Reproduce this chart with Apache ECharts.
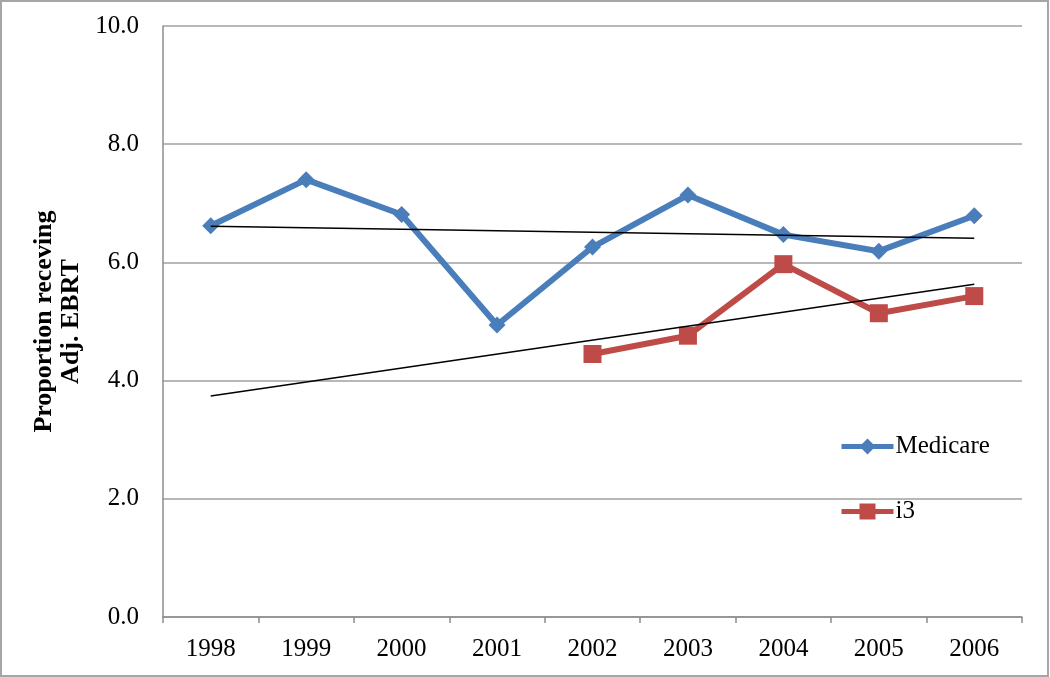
<!DOCTYPE html>
<html>
<head>
<meta charset="utf-8">
<script src="https://cdn.jsdelivr.net/npm/echarts@6/dist/echarts.min.js"></script>
<style>
html,body{margin:0;padding:0;background:#fff;}
#chart{width:1050px;height:677px;}
</style>
</head>
<body>
<div id="chart"></div>
<script>
const years = ['1998','1999','2000','2001','2002','2003','2004','2005','2006'];
const medicare = [6.62, 7.40, 6.81, 4.94, 6.26, 7.14, 6.47, 6.19, 6.79];
const i3 = [null, null, null, null, 4.45, 4.76, 5.97, 5.14, 5.43];
const trendYears = ['1998', '2006'];
const medicareTrend = [6.61, 6.41];
const i3Trend = [3.74, 5.63];
const yTicks = [0, 2, 4, 6, 8, 10];

const FONT = '"Liberation Serif", "Times New Roman", serif';
const chart = echarts.init(document.getElementById('chart'), null, {renderer: 'canvas'});
chart.setOption({
  animation: false,
  backgroundColor: '#fff',
  graphic: [{
    type: 'rect', silent: true, z: 100,
    shape: {x: 1, y: 1, width: 1047, height: 675},
    style: {fill: null, stroke: '#a6a6a6', lineWidth: 2}
  }],
  grid: {left: 163, right: 28, top: 26, bottom: 60},
  legend: {
    data: ['Medicare', 'i3'],
    orient: 'vertical',
    left: 834, top: 429,
    itemWidth: 52, itemHeight: 20, itemGap: 40,
    lineStyle: {width: 5},
    textStyle: {fontFamily: FONT, fontSize: 25, color: '#000', padding: [0, 0, 0, -3]}
  },
  xAxis: {
    type: 'category',
    data: years,
    boundaryGap: true,
    axisLine: {lineStyle: {color: '#8c8c8c', width: 1.5}},
    axisTick: {show: true, interval: 0, length: 6, lineStyle: {color: '#8c8c8c', width: 1.5}},
    axisLabel: {fontFamily: FONT, fontSize: 25, color: '#000', margin: 20, interval: 0},
    splitLine: {show: false}
  },
  yAxis: {
    type: 'value',
    min: yTicks[0], max: yTicks[yTicks.length - 1], interval: 2,
    name: 'Proportion receving\nAdj. EBRT',
    nameLocation: 'middle',
    nameGap: 73,
    nameTextStyle: {fontFamily: FONT, fontSize: 26, fontWeight: 'bold', color: '#000', lineHeight: 27, align: 'center'},
    axisLine: {show: true, lineStyle: {color: '#8c8c8c', width: 1.5}},
    axisTick: {show: false},
    axisLabel: {fontFamily: FONT, fontSize: 25, color: '#000', margin: 24, formatter: v => v.toFixed(1)},
    splitLine: {show: true, lineStyle: {color: '#a0a0a0', width: 1.5}}
  },
  series: [
    {
      name: 'Medicare', type: 'line', data: medicare,
      symbol: 'diamond', symbolSize: 17,
      lineStyle: {color: '#4a7ebb', width: 6},
      itemStyle: {color: '#4a7ebb'},
      z: 2
    },
    {
      name: 'i3', type: 'line', data: i3,
      symbol: 'rect', symbolSize: 18,
      lineStyle: {color: '#be4b48', width: 6},
      itemStyle: {color: '#be4b48'},
      z: 2
    },
    {
      name: 'Medicare trend', type: 'line',
      data: trendYears.map((y, i) => [y, medicareTrend[i]]),
      symbol: 'none', lineStyle: {color: '#000', width: 1.5}, z: 3
    },
    {
      name: 'i3 trend', type: 'line',
      data: trendYears.map((y, i) => [y, i3Trend[i]]),
      symbol: 'none', lineStyle: {color: '#000', width: 1.5}, z: 3
    }
  ]
});
</script>
</body>
</html>
